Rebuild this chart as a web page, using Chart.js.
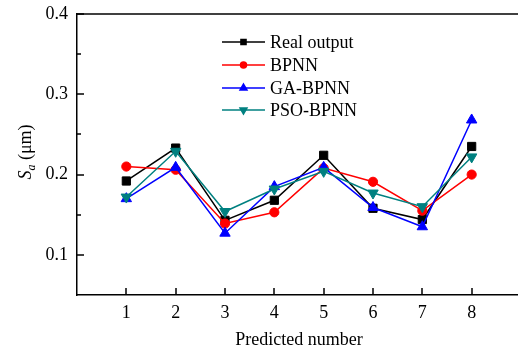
<!DOCTYPE html>
<html>
<head>
<meta charset="utf-8">
<script src="https://cdn.jsdelivr.net/npm/chart.js@4.4.1/dist/chart.umd.min.js"></script>
<style>
  html, body { margin: 0; padding: 0; background: #fff; overflow: hidden; }
  #wrap { width: 530px; height: 354px; position: relative; }
</style>
</head>
<body>
<div id="wrap"><canvas id="c" width="530" height="354"></canvas></div>
<script>
// ---- data ----
const categories = [1, 2, 3, 4, 5, 6, 7, 8];
const realOutput = [0.192, 0.233, 0.143, 0.168, 0.224, 0.158, 0.144, 0.235];
const bpnn       = [0.210, 0.206, 0.139, 0.153, 0.208, 0.191, 0.155, 0.200];
const gaBpnn     = [0.170, 0.209, 0.127, 0.185, 0.209, 0.159, 0.135, 0.268];
const psoBpnn    = [0.172, 0.229, 0.154, 0.182, 0.204, 0.177, 0.160, 0.222];
const xTickLabels = [1, 2, 3, 4, 5, 6, 7, 8];
const yTickLabels = [0.1, 0.2, 0.3, 0.4];
const yMinorTicks = [0.15, 0.25, 0.35];
const seriesNames = ['Real output', 'BPNN', 'GA-BPNN', 'PSO-BPNN'];

const FONT = '"Liberation Serif", "Times New Roman", serif';

function pts(arr) { return categories.map((c, i) => ({ x: c, y: arr[i] })); }

const styles = [
  { color: '#000000', style: 'rect', radius: 5.8, rot: 0, order: 4 },
  { color: '#ff0000', style: 'circle', radius: 4.6, rot: 0, order: 3 },
  { color: '#0000ff', style: 'triangle', radius: 6, rot: 0, order: 2 },
  { color: '#008080', style: 'triangle', radius: 6, rot: 180, order: 1 }
];
const values = [realOutput, bpnn, gaBpnn, psoBpnn];

const datasets = values.map((v, i) => ({
  label: seriesNames[i],
  data: pts(v),
  borderColor: styles[i].color,
  backgroundColor: styles[i].color,
  borderWidth: 1.5,
  pointStyle: styles[i].style,
  pointRadius: styles[i].radius,
  pointRotation: styles[i].rot,
  pointBorderWidth: 1,
  tension: 0,
  order: styles[i].order
}));

const framePlugin = {
  id: 'frame',
  afterDraw(chart) {
    const ctx = chart.ctx;
    const a = chart.chartArea;
    const xs = chart.scales.x, ys = chart.scales.y;
    ctx.save();
    ctx.strokeStyle = '#000000';
    ctx.lineWidth = 1.5;
    ctx.setLineDash([]);
    // top border
    ctx.beginPath();
    ctx.moveTo(a.left, a.top);
    ctx.lineTo(chart.width, a.top);
    ctx.stroke();
    // inward ticks
    for (const v of xTickLabels) {
      const px = Math.round(xs.getPixelForValue(v));
      ctx.beginPath();
      ctx.moveTo(px, a.bottom);
      ctx.lineTo(px, a.bottom - 7);
      ctx.stroke();
    }
    for (const v of yTickLabels) {
      const py = Math.round(ys.getPixelForValue(v));
      ctx.beginPath();
      ctx.moveTo(a.left, py);
      ctx.lineTo(a.left + 7, py);
      ctx.stroke();
    }
    for (const v of yMinorTicks) {
      const py = Math.round(ys.getPixelForValue(v));
      ctx.beginPath();
      ctx.moveTo(a.left, py);
      ctx.lineTo(a.left + 4, py);
      ctx.stroke();
    }

    // x title
    ctx.fillStyle = '#000';
    ctx.font = '18px ' + FONT;
    ctx.textAlign = 'center';
    ctx.textBaseline = 'middle';
    ctx.fillText('Predicted number', 299, 340);

    // y title: S_a (μm)
    ctx.save();
    ctx.translate(25, 152);
    ctx.rotate(-Math.PI / 2);
    ctx.textBaseline = 'alphabetic';
    ctx.textAlign = 'left';
    const fS = 'italic 18px ' + FONT, fSub = 'italic 12px ' + FONT, fR = '18px ' + FONT;
    ctx.font = fS; const wS = ctx.measureText('S').width;
    ctx.font = fSub; const wa = ctx.measureText('a').width;
    ctx.font = fR; const wR = ctx.measureText(' (\u03bcm)').width;
    const total = wS + wa + wR;
    let x0 = -total / 2;
    const base = 6;
    ctx.font = fS; ctx.fillText('S', x0, base); x0 += wS;
    ctx.font = fSub; ctx.fillText('a', x0, base + 4); x0 += wa;
    ctx.font = fR; ctx.fillText(' (\u03bcm)', x0, base);
    ctx.restore();

    // legend
    const lx0 = 222, lx1 = 265, tx = 270;
    const rows = [42, 65, 88, 110];
    const legR = [3.6, 3, 4, 4];
    datasets.forEach((d, i) => {
      const y = rows[i];
      ctx.strokeStyle = d.borderColor;
      ctx.lineWidth = 1.5;
      ctx.beginPath();
      ctx.moveTo(lx0, y);
      ctx.lineTo(lx1, y);
      ctx.stroke();
      ctx.fillStyle = d.backgroundColor;
      Chart.helpers.drawPoint(ctx, {
        pointStyle: d.pointStyle,
        rotation: d.pointRotation,
        radius: legR[i],
        borderWidth: 1
      }, (lx0 + lx1) / 2, y);
      ctx.fillStyle = '#000';
      ctx.font = '18px ' + FONT;
      ctx.textAlign = 'left';
      ctx.textBaseline = 'middle';
      ctx.fillText(d.label, tx, y + 1);
    });
    ctx.restore();
  }
};

new Chart(document.getElementById('c'), {
  type: 'line',
  data: { datasets },
  options: {
    responsive: false,
    animation: false,
    layout: { padding: { left: 0, right: 9, top: 14, bottom: 0 } },
    plugins: { legend: { display: false }, tooltip: { enabled: false } },
    scales: {
      x: {
        type: 'linear',
        min: 0, max: 9,
        grid: { display: false, drawTicks: false },
        border: { display: true, color: '#000', width: 1.5 },
        afterBuildTicks: s => { s.ticks = xTickLabels.map(v => ({ value: v })); },
        afterFit: s => { s.height = 59; s.paddingLeft = 0; s.paddingRight = 0; },
        ticks: {
          color: '#000',
          font: { family: FONT, size: 18 },
          padding: 7,
          maxRotation: 0,
          autoSkip: false,
          callback: v => String(v)
        }
      },
      y: {
        min: 0.05, max: 0.4,
        grid: { display: false, drawTicks: false },
        border: { display: true, color: '#000', width: 1.5 },
        afterBuildTicks: s => { s.ticks = yTickLabels.map(v => ({ value: v })); },
        afterFit: s => { s.width = 77; s.paddingTop = 0; s.paddingBottom = 0; },
        ticks: {
          color: '#000',
          font: { family: FONT, size: 18 },
          padding: 9,
          autoSkip: false,
          callback: v => v.toFixed(1)
        }
      }
    }
  },
  plugins: [framePlugin]
});
</script>
</body>
</html>
